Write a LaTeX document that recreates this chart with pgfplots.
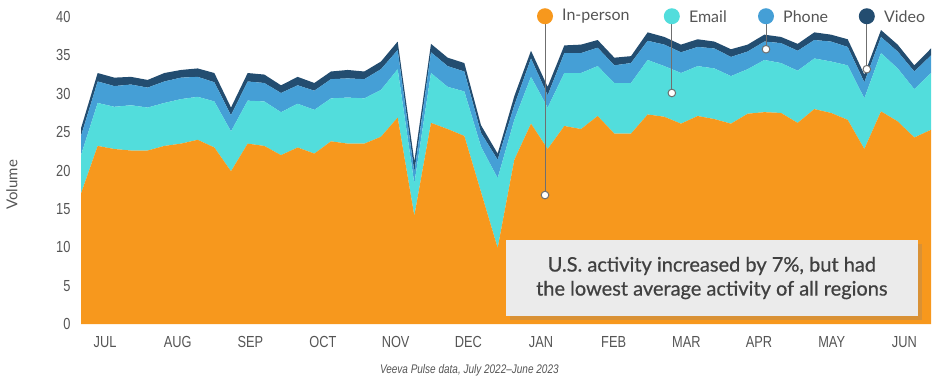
\documentclass[border=0pt]{standalone}
\usepackage{pgfplots}
\pgfplotsset{compat=1.18}
\usepackage{pgfplotstable}
\usepackage{fontspec}
\setmainfont{Lato}
\newfontfamily\condfont[FakeStretch=0.8]{Liberation Sans}
\newfontfamily\boxfont[FakeBold=0.6]{Lato}
\usetikzlibrary{shadows}
\definecolor{cOr}{HTML}{F7981D}
\definecolor{cEm}{HTML}{52DDDC}
\definecolor{cPh}{HTML}{459FD6}
\definecolor{cVi}{HTML}{234D70}
\definecolor{txt}{HTML}{555555}
\definecolor{boxtxt}{HTML}{404040}
\definecolor{boxgray}{HTML}{EBEBEB}
\definecolor{callout}{HTML}{6F6F6F}
\pgfplotstableread{
x o e p v
0 17.0 5.0 2.5 1.0
1 23.2 5.6 2.8 1.1
2 22.8 5.5 2.7 1.1
3 22.6 5.9 2.7 1.0
4 22.6 5.6 2.6 1.0
5 23.2 5.6 2.8 1.1
6 23.5 5.8 2.8 1.0
7 24.0 5.6 2.6 1.1
8 23.0 6.0 2.5 1.2
9 19.9 5.2 2.1 1.0
10 23.5 5.6 2.5 1.1
11 23.2 5.8 2.4 1.1
12 22.0 5.6 2.5 1.0
13 23.0 5.7 2.4 1.1
14 22.2 5.7 2.5 1.0
15 23.8 5.6 2.5 1.0
16 23.5 6.0 2.5 1.1
17 23.5 5.9 2.5 1.0
18 24.4 6.1 2.7 1.0
19 26.9 6.3 2.5 1.1
20 14.1 4.2 1.5 1.4
21 26.2 6.5 2.7 1.1
22 25.4 5.5 2.7 1.1
23 24.5 5.8 2.6 1.1
24 17.2 5.9 1.8 1.0
25 9.9 9.1 2.4 0.8
26 21.4 5.2 1.9 1.2
27 26.1 6.1 2.4 1.0
28 22.8 5.4 1.6 1.1
29 25.8 6.9 2.6 1.0
30 25.4 7.3 2.6 1.1
31 27.1 6.5 2.4 1.0
32 24.8 6.6 2.3 1.0
33 24.8 6.6 2.6 0.9
34 27.3 7.1 2.5 1.1
35 27.0 6.6 2.8 1.0
36 26.1 6.6 2.7 1.0
37 27.1 6.5 2.5 1.0
38 26.7 6.6 2.6 0.9
39 26.1 6.2 2.5 1.0
40 27.4 5.8 2.3 0.9
41 27.6 6.8 2.4 0.9
42 27.5 6.5 2.6 0.8
43 26.2 6.8 2.6 0.9
44 28.0 6.6 2.4 1.0
45 27.5 6.7 2.6 0.9
46 26.6 7.1 2.4 1.0
47 22.8 6.6 2.1 1.0
48 27.7 7.6 2.1 0.9
49 26.4 6.9 2.2 0.9
50 24.3 6.3 2.3 0.8
51 25.3 7.4 2.3 0.9
}\datatable
\begin{document}
\begin{tikzpicture}
\path[use as bounding box] (0,0) rectangle (940pt,386pt);
\begin{axis}[
  at={(81pt,62pt)}, anchor=south west,
  scale only axis, width=850pt, height=307pt,
  xmin=0, xmax=51, ymin=0, ymax=40,
  stack plots=y,
  axis line style={draw=none}, tick style={draw=none},
  ytick={0,5,...,40},
  xtick={1.44,5.8,10.16,14.52,18.88,23.24,27.6,31.96,36.32,40.68,45.04,49.4},
  xticklabels={JUL,AUG,SEP,OCT,NOV,DEC,JAN,FEB,MAR,APR,MAY,JUN},
  /pgf/number format/assume math mode=true,
  ticklabel style={font=\condfont\fontsize{16}{16}\selectfont, text=txt},
  xticklabel style={yshift=-9pt},
  yticklabel style={xshift=-7pt},
  ylabel={Volume},
  every axis y label/.style={at={(rel axis cs:0,0.453)}, rotate=90, anchor=center, yshift=69pt, font=\fontsize{15}{15}\selectfont, text=txt},
  clip=false,
]
\addplot[fill=cOr, draw=none] table[x=x,y=o]{\datatable} \closedcycle;
\addplot[fill=cEm, draw=none] table[x=x,y=e]{\datatable} \closedcycle;
\addplot[fill=cPh, draw=none] table[x=x,y=p]{\datatable} \closedcycle;
\addplot[fill=cVi, draw=none] table[x=x,y=v]{\datatable} \closedcycle;
\coordinate (L1) at (axis cs:27.84,40.1);
\coordinate (L2) at (axis cs:35.45,40.1);
\coordinate (L3) at (axis cs:41.1,40.1);
\coordinate (L4) at (axis cs:47.15,40.1);
\coordinate (E1) at (axis cs:27.84,16.8);
\coordinate (E2) at (axis cs:35.45,30.1);
\coordinate (E3) at (axis cs:41.1,35.8);
\coordinate (E4) at (axis cs:47.15,33.2);
\coordinate (BX) at (axis cs:37.85,5.99);
\coordinate (CP) at (axis cs:23.3,-6.0);
\end{axis}
% callouts
\foreach \i in {1,2,3,4}{
  \draw[callout, line width=1pt] (L\i) -- (E\i);
  \filldraw[fill=white, draw=callout, line width=1pt] (E\i) circle (3.8pt);
}
\fill[cOr] (L1) circle (8pt);
\fill[cEm] (L2) circle (8pt);
\fill[cPh] (L3) circle (8pt);
\fill[cVi] (L4) circle (8pt);
\node[anchor=west, font=\fontsize{16}{16}\selectfont, text=txt, inner sep=0pt] at ([xshift=17pt]L1) {In-person};
\node[anchor=west, font=\fontsize{16}{16}\selectfont, text=txt, inner sep=0pt] at ([xshift=17pt]L2) {Email};
\node[anchor=west, font=\fontsize{16}{16}\selectfont, text=txt, inner sep=0pt] at ([xshift=17pt]L3) {Phone};
\node[anchor=west, font=\fontsize{16}{16}\selectfont, text=txt, inner sep=0pt] at ([xshift=17pt]L4) {Video};
% annotation box
\node[fill=boxgray, minimum width=412pt, minimum height=76pt, inner sep=0pt,
      drop shadow={shadow xshift=4pt, shadow yshift=-4pt, opacity=0.25},
      align=center, font=\boxfont\fontsize{20}{24}\selectfont, text=boxtxt]
  at (BX) {U.S. activity increased by 7\%, but had\\the lowest average activity of all regions};
\node[font=\condfont\itshape\fontsize{12.5}{12.5}\selectfont, text=txt] at (CP) {Veeva Pulse data, July 2022–June 2023};
\end{tikzpicture}
\end{document}
